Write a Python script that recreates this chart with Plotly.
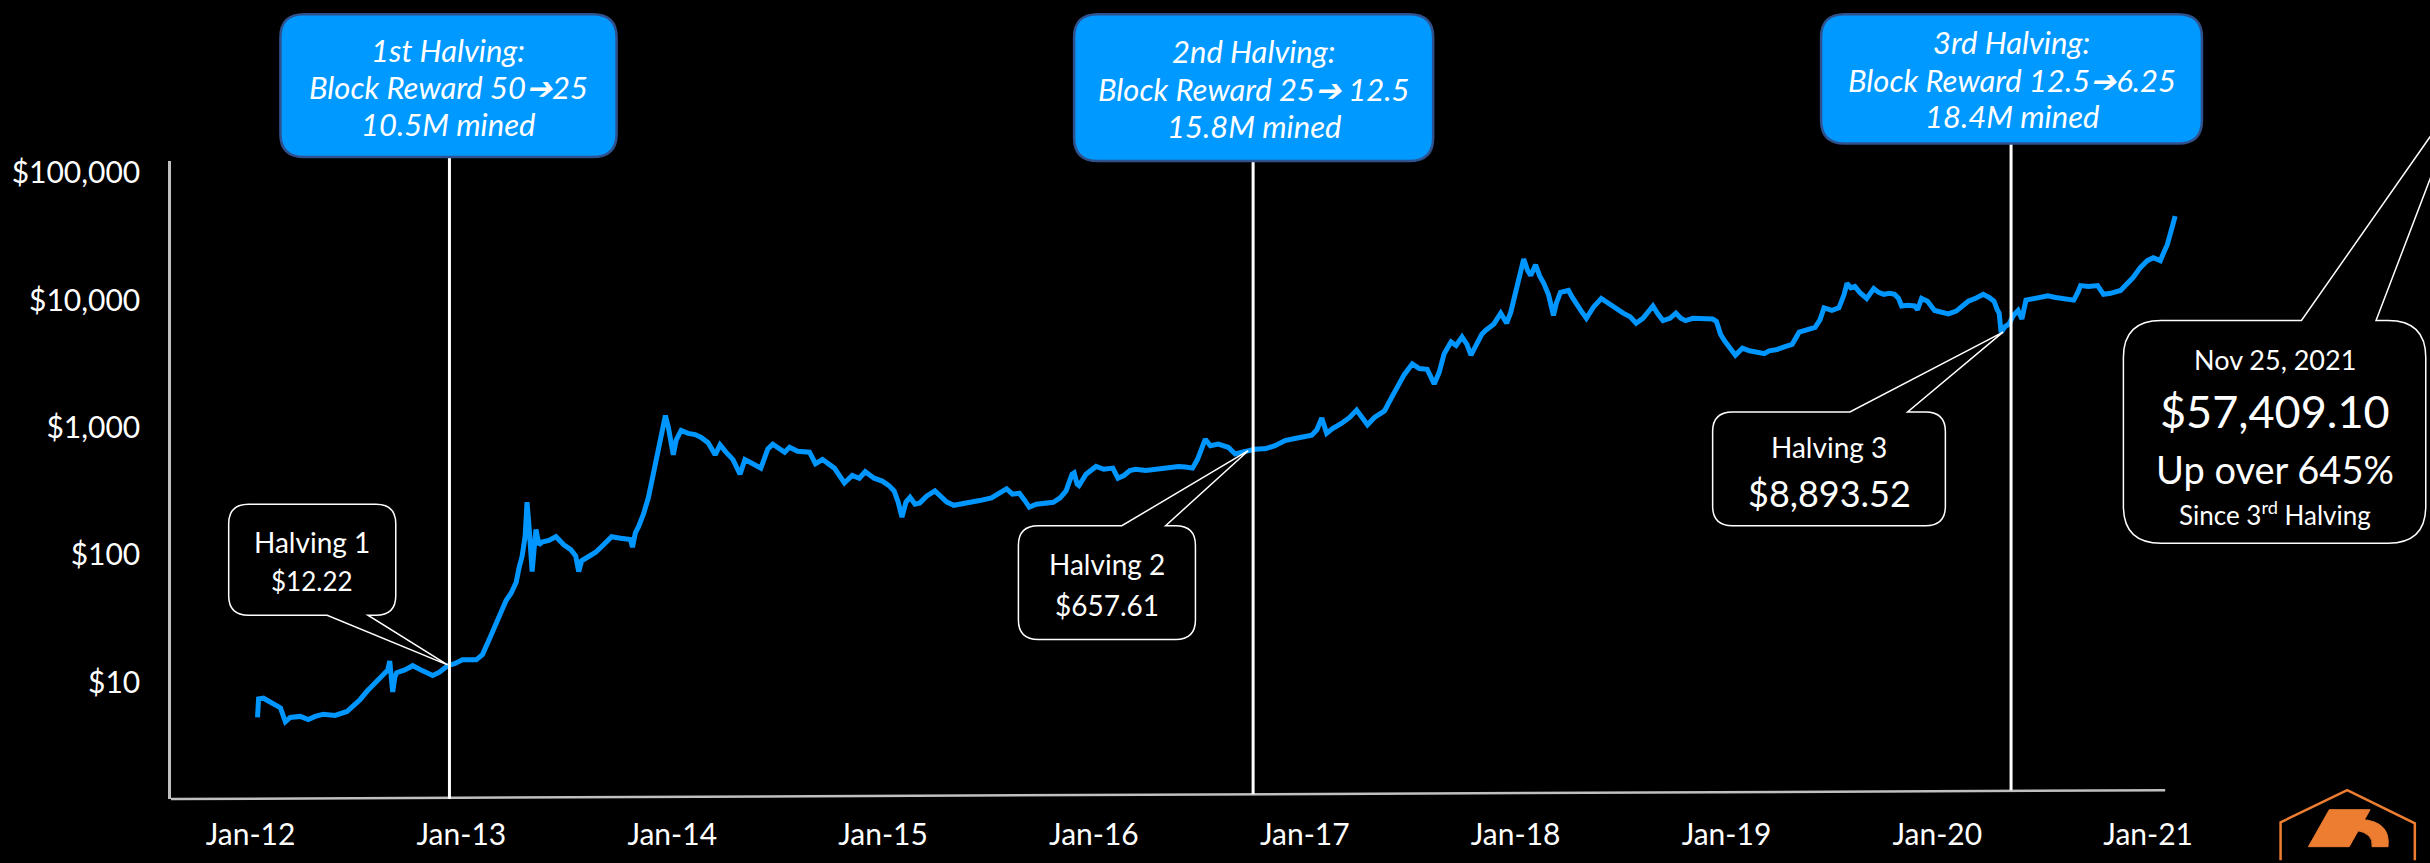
import plotly.graph_objects as go
import math

# ---------------- data ----------------
years = [
    2012.000, 2012.005, 2012.028, 2012.070, 2012.108, 2012.131, 2012.154, 2012.201, 2012.239, 2012.271,
    2012.309, 2012.365, 2012.421, 2012.449, 2012.482, 2012.515, 2012.543, 2012.585, 2012.613, 2012.622,
    2012.632, 2012.636, 2012.646, 2012.655, 2012.693, 2012.730, 2012.777, 2012.824, 2012.856, 2012.894,
    2012.927, 2012.964, 2013.029, 2013.058, 2013.090, 2013.128, 2013.170, 2013.193, 2013.217, 2013.231,
    2013.245, 2013.259, 2013.268, 2013.277, 2013.282, 2013.292, 2013.301, 2013.310, 2013.324, 2013.338,
    2013.371, 2013.404, 2013.441, 2013.474, 2013.497, 2013.511, 2013.525, 2013.558, 2013.591, 2013.628,
    2013.666, 2013.708, 2013.736, 2013.755, 2013.764, 2013.778, 2013.792, 2013.816, 2013.839, 2013.862,
    2013.886, 2013.905, 2013.919, 2013.933, 2013.947, 2013.956, 2013.970, 2013.993, 2014.026, 2014.059,
    2014.087, 2014.120, 2014.153, 2014.176, 2014.204, 2014.237, 2014.270, 2014.293, 2014.330, 2014.368,
    2014.401, 2014.424, 2014.480, 2014.503, 2014.541, 2014.597, 2014.625, 2014.658, 2014.714, 2014.737,
    2014.761, 2014.798, 2014.831, 2014.859, 2014.901, 2014.939, 2014.971, 2014.995, 2015.014, 2015.032,
    2015.051, 2015.070, 2015.093, 2015.116, 2015.149, 2015.187, 2015.219, 2015.243, 2015.276, 2015.313,
    2015.350, 2015.397, 2015.453, 2015.500, 2015.524, 2015.552, 2015.584, 2015.608, 2015.631, 2015.664,
    2015.711, 2015.744, 2015.776, 2015.804, 2015.832, 2015.842, 2015.856, 2015.865, 2015.898, 2015.945,
    2015.982, 2016.024, 2016.048, 2016.076, 2016.104, 2016.132, 2016.179, 2016.226, 2016.258, 2016.296,
    2016.333, 2016.366, 2016.399, 2016.422, 2016.436, 2016.459, 2016.483, 2016.520, 2016.567, 2016.600,
    2016.633, 2016.661, 2016.693, 2016.726, 2016.740, 2016.787, 2016.834, 2016.880, 2016.927, 2016.960,
    2016.984, 2017.007, 2017.030, 2017.058, 2017.101, 2017.138, 2017.171, 2017.194, 2017.222, 2017.255,
    2017.302, 2017.334, 2017.363, 2017.395, 2017.433, 2017.466, 2017.503, 2017.536, 2017.559, 2017.583,
    2017.615, 2017.639, 2017.667, 2017.690, 2017.709, 2017.732, 2017.760, 2017.779, 2017.817, 2017.849,
    2017.877, 2017.896, 2017.910, 2017.933, 2017.957, 2017.976, 2017.990, 2018.013, 2018.032, 2018.051,
    2018.074, 2018.097, 2018.111, 2018.130, 2018.168, 2018.186, 2018.205, 2018.228, 2018.252, 2018.285,
    2018.322, 2018.355, 2018.387, 2018.425, 2018.458, 2018.486, 2018.518, 2018.542, 2018.565, 2018.588,
    2018.612, 2018.645, 2018.673, 2018.696, 2018.719, 2018.752, 2018.799, 2018.846, 2018.864, 2018.883,
    2018.902, 2018.925, 2018.953, 2018.986, 2019.019, 2019.056, 2019.089, 2019.112, 2019.150, 2019.183,
    2019.220, 2019.253, 2019.290, 2019.328, 2019.351, 2019.370, 2019.407, 2019.440, 2019.464, 2019.478,
    2019.496, 2019.515, 2019.538, 2019.571, 2019.604, 2019.627, 2019.651, 2019.679, 2019.702, 2019.721,
    2019.735, 2019.763, 2019.796, 2019.810, 2019.829, 2019.857, 2019.890, 2019.922, 2019.955, 2019.992,
    2020.016, 2020.049, 2020.086, 2020.119, 2020.147, 2020.170, 2020.184, 2020.194, 2020.203, 2020.222,
    2020.241, 2020.259, 2020.283, 2020.301, 2020.320, 2020.353, 2020.390, 2020.423, 2020.460, 2020.498,
    2020.545, 2020.564, 2020.577, 2020.615, 2020.657, 2020.685, 2020.718, 2020.765, 2020.797, 2020.825,
    2020.858, 2020.891, 2020.919, 2020.952, 2020.970, 2020.985, 2021.003, 2021.022,
]
prices = [
    5.3, 7.4, 7.5, 6.8, 6.3, 4.9, 5.3, 5.4, 5.1, 5.4,
    5.6, 5.5, 5.9, 6.5, 7.3, 8.5, 9.5, 11.5, 12.5, 14.7,
    10.0, 8.4, 11.0, 11.9, 12.5, 13.5, 12.3, 11.3, 12.0, 13.5,
    14.0, 15.0, 15.0, 16.5, 21.7, 30, 44, 50, 61, 80,
    98, 140, 259, 170, 120, 74, 110, 158, 120, 126,
    130, 139, 120, 110, 98, 74, 90, 98, 105, 120,
    139, 135, 133, 132, 115, 150, 166, 210, 282, 430,
    643, 1000, 1240, 1000, 750, 610, 800, 950, 900, 880,
    835, 760, 610, 730, 640, 560, 430, 560, 520, 480,
    680, 740, 640, 700, 650, 640, 520, 560, 480, 420,
    367, 420, 400, 450, 400, 380, 350, 318, 260, 198,
    260, 283, 250, 256, 290, 318, 280, 260, 245, 250,
    258, 267, 280, 310, 330, 300, 305, 270, 237, 250,
    255, 259, 280, 318, 430, 440, 360, 350, 430, 495,
    470, 480, 400, 420, 460, 470, 460, 470, 470, 480,
    495, 490, 480, 560, 640, 810, 720, 740, 700, 620,
    640, 657, 675, 680, 680, 720, 790, 820, 850, 870,
    960, 1190, 900, 980, 1080, 1200, 1370, 1200, 1050, 1200,
    1350, 1700, 2100, 2600, 3160, 2900, 2860, 2200, 2700, 3800,
    4700, 4400, 5140, 4500, 3700, 4400, 5400, 5800, 6500, 7900,
    6600, 8000, 10000, 14000, 21000, 17000, 15600, 18900, 15500, 13600,
    11000, 7600, 9500, 11500, 11900, 10500, 9300, 8200, 7200, 8800,
    10300, 9400, 8700, 7900, 7400, 6600, 7200, 8000, 9000, 7800,
    6900, 7200, 7900, 7200, 6900, 7200, 7100, 7100, 6800, 5400,
    4800, 4200, 3700, 4200, 4000, 3900, 3800, 4000, 4100, 4300,
    4500, 5600, 5800, 6100, 7000, 8700, 8300, 8700, 11000, 13500,
    12500, 12800, 11500, 10300, 12300, 11500, 11100, 11300, 11100, 10300,
    9000, 9100, 9000, 8400, 10300, 9800, 8300, 8000, 7800, 8200,
    8900, 9800, 10400, 11100, 10500, 9800, 8500, 7900, 5600, 6200,
    6500, 7500, 8300, 7100, 10000, 10300, 10600, 10800, 10500, 10300,
    10000, 11500, 13000, 12800, 13000, 11100, 11300, 11900, 13500, 15100,
    18000, 20400, 21500, 20400, 24000, 27200, 35000, 45700,
]

tick_years = [2011.967, 2012.959, 2013.951, 2014.943, 2015.935,
              2016.927, 2017.919, 2018.911, 2019.903, 2020.895]
tick_labels = ["Jan-12", "Jan-13", "Jan-14", "Jan-15", "Jan-16",
               "Jan-17", "Jan-18", "Jan-19", "Jan-20", "Jan-21"]

y_ticks = [10, 100, 1000, 10000, 100000]
y_tick_labels = ["$10", "$100", "$1,000", "$10,000", "$100,000"]

halving_years = [2012.903, 2016.684, 2020.250]
halving_tip_years = [2012.894, 2016.661, 2020.212]
halving_tip_prices = [13.7, 657.61, 5600]
halving_titles = ["1st Halving:", "2nd Halving:", "3rd Halving:"]
halving_rewards = ["Block Reward 50\u279425", "Block Reward 25\u2794 12.5", "Block Reward 12.5\u27946.25"]
halving_mined = ["10.5M mined", "15.8M mined", "18.4M mined"]
halving_labels = ["Halving 1", "Halving 2", "Halving 3"]
halving_prices_text = ["$12.22", "$657.61", "$8,893.52"]

latest_date_text = "Nov 25, 2021"
latest_price_text = "$57,409.10"
latest_gain_text = "Up over 645%"
latest_since_text = "Since 3<sup>rd</sup> Halving"

# ---------------- layout geometry ----------------
W, H = 2430, 863
L, R, T, B = 160, 230, 161, 46
PW = W - L - R
PH = H - T - B
XMIN, XMAX = 2011.5929, 2021.1389
YMIN, YMAX = 0.084, 5.092

FONT = "Lato, 'Open Sans', sans-serif"
BLUE = "#0096FF"
WHITE = "#FFFFFF"
AXIS = "#BFBFBF"
ORANGE = "#ED7D31"


def fx(px):
    return (px - L) / PW


def fy(py):
    return (H - B - py) / PH


def data_px(year, price):
    X = L + (year - XMIN) / (XMAX - XMIN) * PW
    Y = (H - B) - (math.log10(price) - YMIN) / (YMAX - YMIN) * PH
    return X, Y


def pt(x, y):
    return f"{fx(x):.5f},{fy(y):.5f}"


def rbox(x0, y0, x1, y1, r, top=None, bottom=None):
    s = f"M {pt(x0 + r, y0)} "
    if top:
        a, b, tx, ty = top
        s += f"L {pt(a, y0)} L {pt(tx, ty)} L {pt(b, y0)} "
    s += f"L {pt(x1 - r, y0)} Q {pt(x1, y0)} {pt(x1, y0 + r)} "
    s += f"L {pt(x1, y1 - r)} Q {pt(x1, y1)} {pt(x1 - r, y1)} "
    if bottom:
        a, b, tx, ty = bottom
        s += f"L {pt(b, y1)} L {pt(tx, ty)} L {pt(a, y1)} "
    s += f"L {pt(x0 + r, y1)} Q {pt(x0, y1)} {pt(x0, y1 - r)} "
    s += f"L {pt(x0, y0 + r)} Q {pt(x0, y0)} {pt(x0 + r, y0)} Z"
    return s


fig = go.Figure()
fig.add_trace(go.Scatter(x=years, y=prices, mode="lines",
                         line=dict(color=BLUE, width=5), hoverinfo="skip",
                         showlegend=False))

shapes = []
annotations = []

# x axis line (slightly tilted as in the picture)
shapes.append(dict(type="line", xref="paper", yref="paper",
                   x0=fx(160), y0=fy(817), x1=fx(2165), y1=fy(808),
                   line=dict(color=AXIS, width=2.5)))

# top blue boxes and vertical halving lines
top_boxes = [(270, 10, 608, 157), (1068, 10, 1429, 161), (1819, 10, 2202, 143)]
text_rows = [(47, 85, 123), (48, 87, 125), (39, 78, 115)]
line_bottoms = [817, 812, 808]
for i in range(3):
    x0, y0, x1, y1 = top_boxes[i]
    shapes.append(dict(type="line", xref="x", yref="paper",
                       x0=halving_years[i], x1=halving_years[i],
                       y0=fy(line_bottoms[i]), y1=fy(y1),
                       line=dict(color=WHITE, width=3), layer="above"))
    shapes.append(dict(type="path", xref="paper", yref="paper",
                       path=rbox(x0, y0, x1, y1, 24),
                       fillcolor="#0099FF", line=dict(color="#2F528F", width=2.5)))
    cx = (x0 + x1) / 2
    for txt, yy in zip([halving_titles[i], halving_rewards[i], halving_mined[i]], text_rows[i]):
        annotations.append(dict(xref="paper", yref="paper", x=fx(cx), y=fy(yy),
                                text=txt, showarrow=False, xanchor="center", yanchor="middle",
                                font=dict(family=FONT, size=31, color=WHITE, style="italic")))

# halving callouts
callouts = [
    dict(box=(218, 514, 386, 628), side="bottom", base=(317, 358),
         rows=[(553, 28), (593, 26)]),
    dict(box=(1012, 536, 1190, 653), side="top", base=(1116, 1160),
         rows=[(575, 28), (618, 28)]),
    dict(box=(1710, 419, 1944, 536), side="top", base=(1848, 1906),
         rows=[(455, 28), (502, 36)]),
]
for i, c in enumerate(callouts):
    x0, y0, x1, y1 = c["box"]
    tx, ty = data_px(halving_tip_years[i], halving_tip_prices[i])
    notch = (c["base"][0], c["base"][1], tx, ty)
    if c["side"] == "top":
        path = rbox(x0, y0, x1, y1, 20, top=notch)
    else:
        path = rbox(x0, y0, x1, y1, 20, bottom=notch)
    shapes.append(dict(type="path", xref="paper", yref="paper", path=path,
                       fillcolor="black", line=dict(color=WHITE, width=1.5)))
    cx = (x0 + x1) / 2
    for txt, (yy, sz) in zip([halving_labels[i], halving_prices_text[i]], c["rows"]):
        annotations.append(dict(xref="paper", yref="paper", x=fx(cx), y=fy(yy),
                                text=txt, showarrow=False, xanchor="center", yanchor="middle",
                                font=dict(family=FONT, size=sz, color=WHITE)))

# latest price callout (pointer leaves the picture at the top right)
shapes.append(dict(type="path", xref="paper", yref="paper",
                   path=rbox(2123, 325, 2427, 554, 38, top=(2302, 2377, 2467, 84)),
                   fillcolor="black", line=dict(color=WHITE, width=1.5)))
for txt, yy, sz in [(latest_date_text, 365, 27), (latest_price_text, 418, 45),
                    (latest_gain_text, 478, 38), (latest_since_text, 523, 26)]:
    annotations.append(dict(xref="paper", yref="paper", x=fx(2275), y=fy(yy),
                            text=txt, showarrow=False, xanchor="center", yanchor="middle",
                            font=dict(family=FONT, size=sz, color=WHITE)))

# logo at the bottom right (partly cut off)
logo_outline = (f"M {pt(2281, 880)} L {pt(2281, 841)} L {pt(2348, 808)} "
                f"L {pt(2416, 842)} L {pt(2416, 880)}")
shapes.append(dict(type="path", xref="paper", yref="paper", path=logo_outline,
                   line=dict(color=ORANGE, width=2.5)))
logo_bar = f"M {pt(2330, 828)} L {pt(2371, 828)} L {pt(2350, 866)} L {pt(2309, 866)} Z"
shapes.append(dict(type="path", xref="paper", yref="paper", path=logo_bar,
                   fillcolor=ORANGE, line=dict(color=ORANGE, width=1)))
logo_bowl = (f"M {pt(2362, 838)} Q {pt(2392, 840)} {pt(2389, 866)} L {pt(2373, 866)} "
             f"Q {pt(2375, 852)} {pt(2356, 849)} Z")
shapes.append(dict(type="path", xref="paper", yref="paper", path=logo_bowl,
                   fillcolor=ORANGE, line=dict(color=ORANGE, width=1)))

fig.update_layout(
    width=W, height=H, autosize=False,
    margin=dict(l=L, r=R, t=T, b=B, pad=0),
    paper_bgcolor="black", plot_bgcolor="black",
    showlegend=False,
    shapes=shapes, annotations=annotations,
    xaxis=dict(range=[XMIN, XMAX], showgrid=False, zeroline=False, showline=False,
               tickmode="array", tickvals=tick_years, ticktext=tick_labels,
               ticks="", tickfont=dict(family=FONT, size=30, color=WHITE),
               ticklabelstandoff=15),
    yaxis=dict(type="log", range=[YMIN, YMAX], showgrid=False, zeroline=False,
               showline=True, linecolor=AXIS, linewidth=2.5,
               tickmode="array", tickvals=y_ticks, ticktext=y_tick_labels,
               ticks="", tickfont=dict(family=FONT, size=30, color=WHITE),
               ticklabelstandoff=22),
)

fig.write_html("out.html", config={"displayModeBar": False},
               post_script="document.body.style.margin='0';document.body.style.overflow='hidden';")
